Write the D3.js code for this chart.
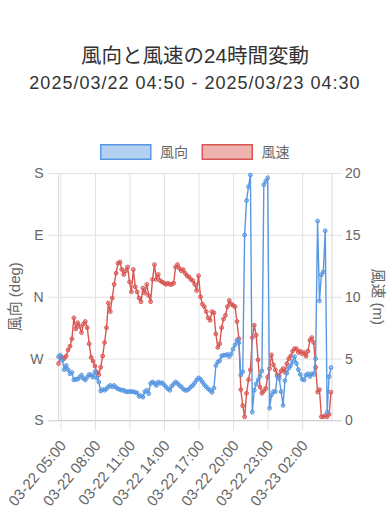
<!DOCTYPE html>
<html><head><meta charset="utf-8">
<script src="https://cdn.jsdelivr.net/npm/d3@7"></script>
<style>html,body{margin:0;padding:0;background:#fff;} svg{display:block;}</style>
</head><body><svg id="c" width="390" height="510"></svg>
<script>
const titleText = "風向と風速の24時間変動";
const subtitleText = "2025/03/22 04:50 - 2025/03/23 04:30";
const seriesNames = ["風向", "風速"];
const day1 = "03-22";
const day2 = "03-23";
const day1Times = ["04:50",
 "05:00","05:10","05:20","05:30","05:40","05:50",
 "06:00","06:10","06:20","06:30","06:40","06:50",
 "07:00","07:10","07:20","07:30","07:40","07:50",
 "08:00","08:10","08:20","08:30","08:40","08:50",
 "09:00","09:10","09:20","09:30","09:40","09:50",
 "10:00","10:10","10:20","10:30","10:40","10:50",
 "11:00","11:10","11:20","11:30","11:40","11:50",
 "12:00","12:10","12:20","12:30","12:40","12:50",
 "13:00","13:10","13:20","13:30","13:40","13:50",
 "14:00","14:10","14:20","14:30","14:40","14:50",
 "15:00","15:10","15:20","15:30","15:40","15:50",
 "16:00","16:10","16:20","16:30","16:40","16:50",
 "17:00","17:10","17:20","17:30","17:40","17:50",
 "18:00","18:10","18:20","18:30","18:40","18:50",
 "19:00","19:10","19:20","19:30","19:40","19:50",
 "20:00","20:10","20:20","20:30","20:40","20:50",
 "21:00","21:10","21:20","21:30","21:40","21:50",
 "22:00","22:10","22:20","22:30","22:40","22:50",
 "23:00","23:10","23:20","23:30","23:40","23:50"];
const day2Times = [
 "00:00","00:10","00:20","00:30","00:40","00:50",
 "01:00","01:10","01:20","01:30","01:40","01:50",
 "02:00","02:10","02:20","02:30","02:40","02:50",
 "03:00","03:10","03:20","03:30","03:40","03:50",
 "04:00","04:10","04:20","04:30"];
// wind direction, degrees (-180..180, 0 = N)
const windDir = [
 -87,-85,-92,-106,-100,-106,-112,-110,-121,-120,
 -120,-117,-114,-119,-121,-117,-113,-114,-117,-109,
 -118,-124,-137,-135,-136,-134,-131,-129,-131,-129,
 -132,-134,-135,-136,-136,-138,-138,-138,-138,-138,
 -139,-140,-145,-144,-146,-138,-136,-141,-126,-124,
 -126,-129,-124,-126,-125,-128,-131,-134,-136,-130,
 -127,-124,-126,-129,-131,-134,-136,-136,-134,-131,
 -129,-125,-121,-118,-120,-124,-128,-131,-134,-136,
 -139,-133,-100,-95,-93,-86,-85,-85,-84,-87,
 -83,-76,-70,-63,-67,-114,-109,90,140,160,
 177,-168,-136,-127,-121,-116,-108,163,168,173,
 -162,-143,-138,-138,-116,-119,-138,-158,-122,-111,
 -104,-100,-94,-87,-97,-106,-113,-120,-121,-114,
 -112,-116,-112,-113,-90,110,-6,32,36,96,
 -168,-116,-103];
// wind speed, m
const windSpeed = [
 4.6,5.1,5.1,5.0,5.2,5.7,6.0,6.6,8.3,7.4,
 7.9,7.6,7.1,7.8,8.0,7.5,6.2,5.1,4.8,4.4,
 3.9,3.7,4.3,5.2,6.3,7.5,9.5,8.8,9.9,11.0,
 11.9,12.7,12.8,12.2,11.8,12.1,12.4,11.2,10.4,12.2,
 10.8,10.4,9.9,9.6,10.7,10.3,11.0,10.1,9.6,11.4,
 12.6,11.4,11.8,11.3,11.2,11.1,11.0,11.1,11.0,11.0,
 11.1,12.4,12.6,12.3,12.1,12.2,11.9,11.7,11.6,11.4,
 11.3,11.0,10.5,11.7,10.0,9.4,9.2,8.8,8.3,8.1,
 8.8,8.7,7.0,5.9,6.2,7.5,8.2,8.5,9.2,9.7,
 9.4,9.3,9.2,8.0,6.6,2.5,1.2,0.3,2.2,3.3,
 4.1,6.7,7.7,6.9,4.9,2.7,2.2,2.4,2.6,3.5,
 4.2,5.3,4.5,4.1,3.7,3.6,4.0,4.2,3.9,4.6,
 5.0,5.2,5.6,5.8,5.8,5.5,5.6,5.4,5.5,5.2,
 5.6,6.5,6.7,6.3,4.3,2.3,2.5,0.3,0.3,0.4,
 0.3,0.5,2.3];
const dirTicks = [-180, -90, 0, 90, 180];
const dirTickLabels = ["S", "W", "N", "E", "S"];
const speedTicks = [0, 5, 10, 15, 20];
const timeTickLabels = ["03-22 05:00","03-22 08:00","03-22 11:00","03-22 14:00","03-22 17:00","03-22 20:00","03-22 23:00","03-23 02:00"];
const leftTitle = "風向 (deg)";
const rightTitle = "風速 (m)";

const labels = day1Times.map(t => day1 + " " + t).concat(day2Times.map(t => day2 + " " + t));

const L = 58.5, R = 332, T = 173, B = 420.5;
const latin = "'Liberation Sans', Arial, 'Noto Sans CJK JP', sans-serif";
const blue = "rgb(88,152,226)", blueFill = "rgba(88,152,226,0.45)";
const red = "rgb(217,86,82)", redFill = "rgba(217,86,82,0.45)";
const gridC = "#e2e2e2", tickC = "#666";

const svg = d3.select("#c");
svg.append("rect").attr("width", 390).attr("height", 510).attr("fill", "#fff");

const x = d3.scalePoint().domain(labels).range([L, 331]);
const yDir = d3.scaleLinear().domain([-180, 180]).range([B, T]);
const ySpd = d3.scaleLinear().domain([0, 20]).range([B, T]);

// titles
svg.append("text").attr("x", 195).attr("y", 63).attr("text-anchor", "middle")
  .style("font-family", latin).style("font-size", "20.5px").attr("fill", "#333").text(titleText);
svg.append("text").attr("x", 195).attr("y", 89).attr("text-anchor", "middle")
  .style("font-family", latin).style("font-size", "18px").style("letter-spacing", "1px")
  .attr("fill", "#333").text(subtitleText);

// legend
const legendItems = [{name: seriesNames[0], stroke: blue, fill: blueFill, x: 100},
                     {name: seriesNames[1], stroke: red, fill: redFill, x: 201.5}];
const lg = svg.append("g");
legendItems.forEach(it => {
  lg.append("rect").attr("x", it.x + 0.75).attr("y", 144.75).attr("width", 50).attr("height", 14.5)
    .attr("fill", it.fill).attr("stroke", it.stroke).attr("stroke-width", 1.5);
  lg.append("text").attr("x", it.x + 60).attr("y", 156.5).style("font-family", latin)
    .style("font-size", "14px").attr("fill", tickC).text(it.name);
});

function styleAxis(g) {
  g.select(".domain").remove();
  g.selectAll(".tick line").attr("stroke", gridC);
  g.selectAll(".tick text").attr("fill", tickC).style("font-family", latin).style("font-size", "14px");
}

// grid
svg.append("g").attr("transform", `translate(${L},0)`)
  .call(d3.axisLeft(yDir).tickValues(dirTicks).tickSize(-(R - L)).tickFormat(""))
  .call(styleAxis);
svg.append("g").attr("transform", `translate(0,${B})`)
  .call(d3.axisBottom(x).tickValues(timeTickLabels).tickSize(-(B - T)).tickFormat(""))
  .call(styleAxis);

// frame
svg.append("line").attr("x1", L).attr("x2", L).attr("y1", T).attr("y2", B).attr("stroke", "#d8d8d8");
svg.append("line").attr("x1", R).attr("x2", R).attr("y1", T).attr("y2", B).attr("stroke", "#d8d8d8");
svg.append("line").attr("x1", L - 10).attr("x2", R + 10).attr("y1", B).attr("y2", B).attr("stroke", "#d0d0d0");

// axes
svg.append("g").attr("transform", `translate(${L},0)`)
  .call(d3.axisLeft(yDir).tickValues(dirTicks).tickSize(10).tickPadding(5).tickFormat((d, i) => dirTickLabels[i]))
  .call(styleAxis);
svg.append("g").attr("transform", `translate(${R},0)`)
  .call(d3.axisRight(ySpd).tickValues(speedTicks).tickSize(10).tickPadding(3))
  .call(styleAxis);
const xa = svg.append("g").attr("transform", `translate(0,${B})`)
  .call(d3.axisBottom(x).tickValues(timeTickLabels).tickSize(10))
  .call(styleAxis);
xa.selectAll(".tick text")
  .style("font-size", "15px")
  .attr("text-anchor", "end")
  .attr("dy", "0.35em")
  .attr("transform", "translate(2,22) rotate(-50)")
  .attr("y", 0).attr("x", 0);

// axis titles
svg.append("text").attr("transform", `translate(14,${(T + B) / 2}) rotate(-90)`)
  .attr("text-anchor", "middle").attr("dominant-baseline", "central")
  .style("font-family", latin).style("font-size", "15px").attr("fill", tickC).text(leftTitle);
svg.append("text").attr("transform", `translate(378,${(T + B) / 2}) rotate(90)`)
  .attr("text-anchor", "middle").attr("dominant-baseline", "central")
  .style("font-family", latin).style("font-size", "15px").attr("fill", tickC).text(rightTitle);

// series
function drawSeries(values, yScale, stroke, fill) {
  const line = d3.line().x((d, i) => x(labels[i])).y(d => yScale(d));
  const g = svg.append("g");
  g.append("path").datum(values).attr("d", line).attr("fill", "none")
    .attr("stroke", stroke).attr("stroke-width", 1.4).attr("stroke-linejoin", "round");
  g.selectAll("circle").data(values).join("circle")
    .attr("cx", (d, i) => x(labels[i])).attr("cy", d => yScale(d)).attr("r", 1.9)
    .attr("fill", fill).attr("stroke", stroke).attr("stroke-width", 1);
}
drawSeries(windSpeed, ySpd, red, redFill);
drawSeries(windDir, yDir, blue, blueFill);
</script>
</body></html>
